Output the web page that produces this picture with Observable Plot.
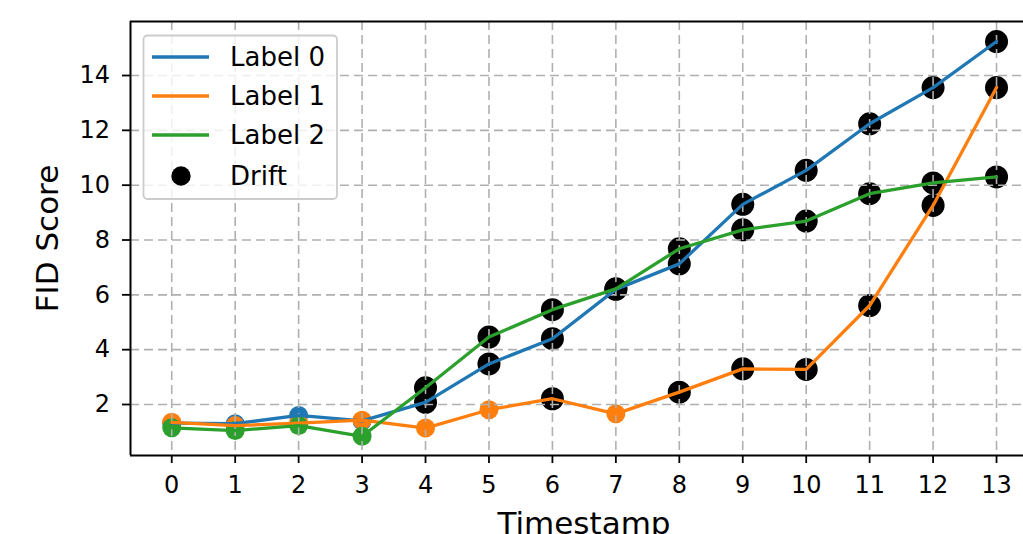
<!DOCTYPE html>
<html>
<head>
<meta charset="utf-8">
<script src="https://cdn.jsdelivr.net/npm/d3@7"></script>
<script src="https://cdn.jsdelivr.net/npm/@observablehq/plot@0.6"></script>
<style>
  html, body { margin: 0; padding: 0; background: #fff; overflow: hidden; }
  #wrap { position: relative; width: 1023px; height: 534px; font-family: "DejaVu Sans", sans-serif; }
  #legend { position: absolute; left: 0; top: 0; pointer-events: none; }
</style>
</head>
<body>
<div id="wrap"></div>
<script>
const timestamps = [0, 1, 2, 3, 4, 5, 6, 7, 8, 9, 10, 11, 12, 13];
const seriesNames = ["Label 0", "Label 1", "Label 2"];
const seriesColors = ["#1f77b4", "#ff7f0e", "#2ca02c"];
const label0 = [1.32, 1.30, 1.60, 1.40, 2.08, 3.48, 4.40, 6.20, 7.13, 9.30, 10.54, 12.24, 13.56, 15.24];
const label1 = [1.35, 1.23, 1.32, 1.43, 1.14, 1.81, 2.21, 1.66, 2.45, 3.30, 3.28, 5.61, 9.26, 13.56];
const label2 = [1.15, 1.05, 1.23, 0.84, 2.61, 4.46, 5.46, 6.22, 7.68, 8.37, 8.69, 9.69, 10.08, 10.30];
const drift0 = [4, 5, 6, 7, 8, 9, 10, 11, 12, 13];
const drift1 = [6, 8, 9, 10, 11, 12, 13];
const drift2 = [4, 5, 6, 7, 8, 9, 10, 11, 12, 13];
const xTicks = [0, 1, 2, 3, 4, 5, 6, 7, 8, 9, 10, 11, 12, 13];
const yTicks = [2, 4, 6, 8, 10, 12, 14];
const xLabel = "Timestamp";
const yLabel = "FID Score";

const values = [label0, label1, label2];
const drifts = [drift0, drift1, drift2];
const data = [];
values.forEach((vals, i) => vals.forEach((v, j) => data.push({series: seriesNames[i], t: timestamps[j], v})));
const driftData = [];
drifts.forEach((ts, i) => ts.forEach(t => driftData.push({series: seriesNames[i], t, v: values[i][timestamps.indexOf(t)]})));

const xDomain = [-0.65, 13.425];
const yDomain = [0.14, 15.97];
const gridStyle = {stroke: "#b0b0b0", strokeOpacity: 1, strokeWidth: 1.6, strokeDasharray: "9,5"};

const chart = Plot.plot({
  width: 1023,
  height: 534,
  marginLeft: 130,
  marginRight: 0,
  marginTop: 21,
  marginBottom: 79,
  style: {fontFamily: "DejaVu Sans", fontSize: "24px", background: "white", color: "black"},
  x: {domain: xDomain, label: null},
  y: {domain: yDomain, label: null},
  color: {domain: seriesNames, range: seriesColors},
  marks: [
    Plot.dot(data, {x: "t", y: "v", fill: "series", r: 9.5}),
    Plot.dot(driftData, {x: "t", y: "v", fill: "black", r: 11.5}),
    Plot.gridX(xTicks, gridStyle),
    Plot.gridY(yTicks, gridStyle),
    Plot.line(data, {x: "t", y: "v", z: "series", stroke: "series", strokeWidth: 3.3}),
    Plot.axisX(xTicks, {tickSize: 8, tickPadding: 12, fontSize: 24, strokeWidth: 1.8, tickFormat: d => String(d), label: null}),
    Plot.axisY(yTicks, {tickSize: 8, tickPadding: 12.5, fontSize: 24, strokeWidth: 1.8, tickFormat: d => String(d), label: null}),
    Plot.ruleX([xDomain[0]], {stroke: "black", strokeWidth: 2}),
    Plot.ruleY([yDomain[0]], {stroke: "black", strokeWidth: 2}),
    Plot.ruleY([yDomain[1]], {stroke: "black", strokeWidth: 2}),
    Plot.text([xLabel], {frameAnchor: "bottom", text: d => d, dx: 7, dy: 78, lineAnchor: "bottom", fontSize: 31, fill: "black"}),
    Plot.text([yLabel], {frameAnchor: "left", text: d => d, dx: -82, rotate: -90, lineAnchor: "middle", textAnchor: "middle", fontSize: 31, fill: "black"})
  ]
});
const wrap = document.getElementById("wrap");
wrap.appendChild(chart);

// Legend overlay
const ns = "http://www.w3.org/2000/svg";
const leg = document.createElementNS(ns, "svg");
leg.setAttribute("id", "legend");
leg.setAttribute("width", 1023);
leg.setAttribute("height", 534);
const box = document.createElementNS(ns, "rect");
box.setAttribute("x", 143.5); box.setAttribute("y", 35.5);
box.setAttribute("width", 193.5); box.setAttribute("height", 163.5);
box.setAttribute("rx", 4);
box.setAttribute("fill", "rgba(255,255,255,0.8)");
box.setAttribute("stroke", "#cccccc"); box.setAttribute("stroke-width", 1.8);
leg.appendChild(box);
const rowsY = [57, 96, 135, 176];
seriesNames.forEach((name, i) => {
  const ln = document.createElementNS(ns, "line");
  ln.setAttribute("x1", 152); ln.setAttribute("x2", 209);
  ln.setAttribute("y1", rowsY[i]); ln.setAttribute("y2", rowsY[i]);
  ln.setAttribute("stroke", seriesColors[i]); ln.setAttribute("stroke-width", 3.3);
  leg.appendChild(ln);
});
const dot = document.createElementNS(ns, "circle");
dot.setAttribute("cx", 181); dot.setAttribute("cy", rowsY[3]); dot.setAttribute("r", 9.7);
dot.setAttribute("fill", "black");
leg.appendChild(dot);
[...seriesNames, "Drift"].forEach((name, i) => {
  const t = document.createElementNS(ns, "text");
  t.setAttribute("x", 230); t.setAttribute("y", rowsY[i]);
  t.setAttribute("dy", "0.35em");
  t.setAttribute("font-size", 26);
  t.setAttribute("font-family", "DejaVu Sans");
  t.setAttribute("fill", "black");
  t.textContent = name;
  leg.appendChild(t);
});
wrap.appendChild(leg);
</script>
</body>
</html>
